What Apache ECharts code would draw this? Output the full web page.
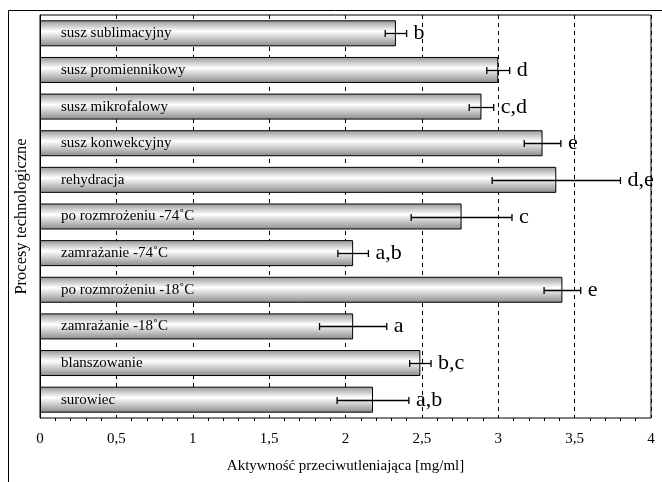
<!DOCTYPE html>
<html><head><meta charset="utf-8">
<script src="https://cdn.jsdelivr.net/npm/echarts@6/dist/echarts.min.js"></script>
<style>html,body{margin:0;padding:0;background:#fff}#c{width:662px;height:482px}</style>
</head><body><div id="c"></div>
<script>
const categories = ['susz sublimacyjny','susz promiennikowy','susz mikrofalowy','susz konwekcyjny','rehydracja','po rozmrożeniu -74˚C','zamrażanie -74˚C','po rozmrożeniu -18˚C','zamrażanie -18˚C','blanszowanie','surowiec'];
const values = [2.33, 3.00, 2.89, 3.29, 3.38, 2.76, 2.05, 3.42, 2.05, 2.49, 2.18];
const errors = [0.07, 0.075, 0.08, 0.12, 0.42, 0.33, 0.10, 0.12, 0.22, 0.07, 0.235];
const letters = ['b','d','c,d','e','d,e','c','a,b','e','a','b,c','a,b'];
const xTicks = [0, 0.5, 1, 1.5, 2, 2.5, 3, 3.5, 4];

const FONT = '"Liberation Serif", "Times New Roman", serif';
const chart = echarts.init(document.getElementById('c'));
const errData = values.map((v, i) => [v - errors[i], v + errors[i], i]);

chart.setOption({
  animation: false,
  backgroundColor: '#fff',
  graphic: [{type: 'rect', shape: {x: 8.5, y: 10.5, width: 800, height: 600}, style: {fill: 'none', stroke: '#000', lineWidth: 1}, z: 100}],
  grid: {left: 40, right: 11, top: 15, bottom: 64, show: true, borderColor: '#000', borderWidth: 1},
  xAxis: {
    type: 'value', min: xTicks[0], max: xTicks[xTicks.length - 1], interval: 0.5,
    axisLine: {lineStyle: {color: '#000', width: 1}},
    axisTick: {length: 6, lineStyle: {color: '#000'}},
    minorTick: {show: true, splitNumber: 5, length: 3, lineStyle: {color: '#000'}},
    splitLine: {show: true, lineStyle: {color: '#000', type: [4, 4], width: 1}},
    axisLabel: {color: '#000', fontFamily: FONT, fontSize: 15, margin: 14,
      formatter: v => String(v).replace('.', ',')},
    name: 'Aktywność przeciwutleniająca [mg/ml]', nameLocation: 'middle', nameGap: 41,
    nameTextStyle: {color: '#000', fontFamily: FONT, fontSize: 15}
  },
  yAxis: {
    type: 'category', data: categories, inverse: true,
    axisLine: {lineStyle: {color: '#000', width: 1}},
    axisTick: {length: 5, lineStyle: {color: '#000'}},
    axisLabel: {show: false},
    name: 'Procesy technologiczne', nameLocation: 'middle', nameGap: 10,
    nameTextStyle: {color: '#000', fontFamily: FONT, fontSize: 16.5}
  },
  series: [{
    type: 'bar', data: values, barWidth: 26,
    itemStyle: {
      borderColor: '#000', borderWidth: 1,
      color: new echarts.graphic.LinearGradient(0, 0, 0, 1, [
        {offset: 0, color: '#969696'},
        {offset: 0.42, color: '#ffffff'},
        {offset: 1, color: '#8a8a8a'}
      ])
    },
    label: {show: true, position: 'insideLeft', distance: 21, formatter: p => p.name,
      color: '#000', fontFamily: FONT, fontSize: 15}
  }, {
    type: 'custom', data: errData, encode: {x: [0, 1], y: 2}, z: 5,
    renderItem: (params, api) => {
      const lo = api.coord([api.value(0), api.value(2)]);
      const hi = api.coord([api.value(1), api.value(2)]);
      const y = Math.round(lo[1]) + 0.5;
      const h = 3.5;
      const st = {stroke: '#000', lineWidth: 1.3};
      return {type: 'group', children: [
        {type: 'line', shape: {x1: lo[0], y1: y, x2: hi[0], y2: y}, style: st},
        {type: 'line', shape: {x1: lo[0], y1: y - h, x2: lo[0], y2: y + h}, style: st},
        {type: 'line', shape: {x1: hi[0], y1: y - h, x2: hi[0], y2: y + h}, style: st},
        {type: 'text', style: {x: hi[0] + 7, y: y, text: letters[params.dataIndex],
          font: '22px ' + FONT, fill: '#000', verticalAlign: 'middle', align: 'left'}}
      ]};
    }
  }]
});
</script></body></html>
